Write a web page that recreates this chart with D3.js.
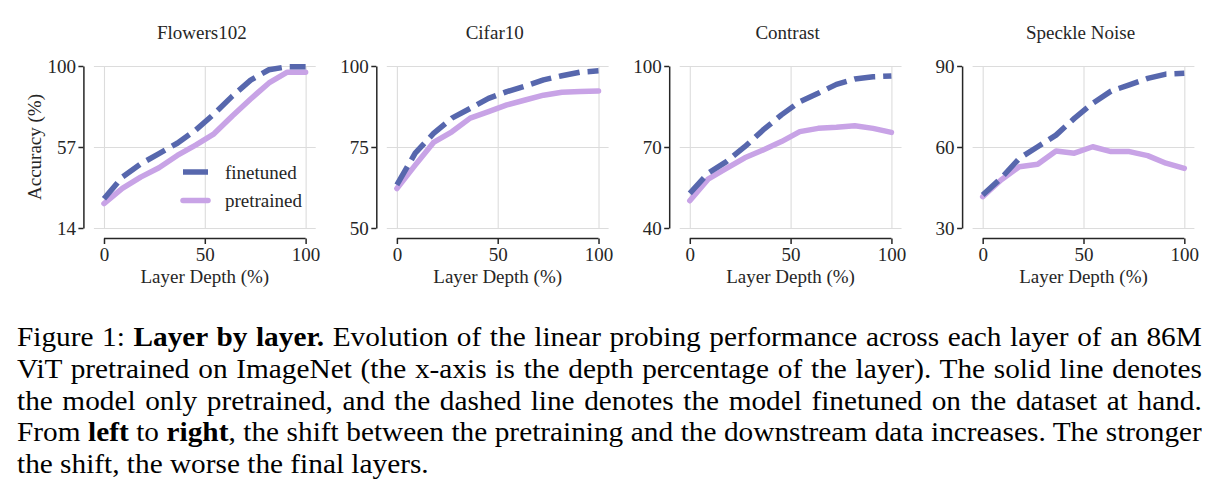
<!DOCTYPE html>
<html>
<head>
<meta charset="utf-8">
<script src="https://cdn.jsdelivr.net/npm/d3@7"></script>
<style>
body { margin: 0; background: #fff; }
#chart { position: relative; width: 1226px; height: 502px; overflow: hidden; }
.cap {
	position: absolute; left: 17px; width: 1092px;
	font-family: "Liberation Serif", "Times New Roman", serif;
	font-size: 27px; line-height: 31.8px; white-space: nowrap; color: #000;
	text-align: justify; text-align-last: justify;
	transform: scaleX(1.085); transform-origin: 0 0;
}
.cap.last { text-align-last: left; }
</style>
</head>
<body>
<div id="chart"></div>
<script>

// values
const datasets = ["Flowers102", "Cifar10", "Contrast", "Speckle Noise"];
const depth = [0, 9.09, 18.18, 27.27, 36.36, 45.45, 54.55, 63.64, 72.73, 81.82, 90.91, 100];
const xTicks = [0, 50, 100];
const yTicks = [[14, 57, 100], [50, 75, 100], [40, 70, 100], [30, 60, 90]];

const finetuned = [
	[29.5, 41, 48, 53.5, 59, 66, 74.5, 84, 92.5, 98, 99.6, 99.6],
	[63.3, 73.1, 79.2, 83.9, 86.9, 90, 92.1, 93.8, 95.7, 97, 98.1, 98.5],
	[52.8, 60.3, 64.6, 70.1, 76.3, 81.9, 86.8, 89.9, 93.2, 95.2, 96, 96.3],
	[42.2, 48.4, 55.8, 60.1, 64.4, 70.6, 76.2, 80.7, 83, 85.4, 87, 87.3]
];
const pretrained = [
	[27, 35, 41, 46, 52.5, 58, 64, 73.5, 82.5, 91, 96.7, 96.7],
	[62.2, 69.4, 76.4, 79.7, 83.9, 85.9, 88, 89.5, 91, 91.9, 92.1, 92.3],
	[50.1, 58.1, 62.1, 66, 68.9, 72, 75.7, 76.9, 77.3, 77.9, 76.9, 75.4],
	[41.6, 47.8, 52.7, 53.6, 58.5, 57.7, 60.1, 58.3, 58.3, 56.8, 54, 52.1]
];
const seriesNames = ["finetuned", "pretrained"];

const captionLines = [
	"Figure 1: <b>Layer by layer.</b> Evolution of the linear probing performance across each layer of an 86M",
	"ViT pretrained on ImageNet (the x-axis is the depth percentage of the layer). The solid line denotes",
	"the model only pretrained, and the dashed line denotes the model finetuned on the dataset at hand.",
	"From <b>left</b> to <b>right</b>, the shift between the pretraining and the downstream data increases. The stronger",
	"the shift, the worse the final layers."
];

const W = 1226, H = 502;
const fontFam = '"Liberation Serif", "Times New Roman", serif';
const fs = 19;
const blue = "#5767ad", purple = "#c8a3e6", gridC = "#dcdcdc", ink = "#262626";
const lw = 5.5;

const panelLeft = 93.9, panelStep = 292.9, panelW = 221.8;
const plotTop = 66, plotBottom = 228;

const svg = d3.select("#chart").append("svg")
	.attr("width", W).attr("height", H)
	.style("position", "absolute").style("left", 0).style("top", 0);

datasets.forEach((name, i) => {
	const left = panelLeft + i * panelStep;
	const x = d3.scaleLinear().domain([-5, 105]).range([left, left + panelW]);
	const yt = yTicks[i];
	const y = d3.scaleLinear().domain([yt[0], yt[2]]).range([plotBottom, plotTop]);
	const g = svg.append("g");

	// grid
	g.append("g")
		.attr("transform", `translate(0,${plotBottom})`)
		.call(d3.axisBottom(x).tickValues(xTicks).tickSize(-(plotBottom - plotTop)).tickFormat(""))
		.call(s => { s.select(".domain").remove(); s.selectAll("line").attr("stroke", gridC).attr("stroke-width", 1.1); });
	g.append("g")
		.attr("transform", `translate(${left},0)`)
		.call(d3.axisLeft(y).tickValues(yt).tickSize(-panelW).tickFormat(""))
		.call(s => { s.select(".domain").remove(); s.selectAll("line").attr("stroke", gridC).attr("stroke-width", 1.1); });

	// y axis (offset, trimmed)
	g.append("g")
		.attr("transform", `translate(${left - 10.5},0)`)
		.call(d3.axisLeft(y).tickValues(yt).tickSize(5).tickSizeOuter(0).tickPadding(2.5))
		.call(s => {
			s.select(".domain").attr("stroke", ink).attr("stroke-width", 1.5);
			s.selectAll("line").attr("stroke", ink).attr("stroke-width", 1.5);
			s.selectAll("text").attr("fill", ink).style("font-family", fontFam).style("font-size", fs + "px");
		});

	// x axis (offset, trimmed)
	const xa = g.append("g")
		.attr("transform", `translate(0,${plotBottom + 10.5})`)
		.call(d3.axisBottom(x).tickValues(xTicks).tickSize(5.5).tickPadding(3.5))
		.call(s => {
			s.select(".domain").remove();
			s.selectAll("line").attr("stroke", ink).attr("stroke-width", 1.5);
			s.selectAll("text").attr("fill", ink).style("font-family", fontFam).style("font-size", fs + "px");
		});
	xa.append("line")
		.attr("x1", x(xTicks[0])).attr("x2", x(xTicks[xTicks.length - 1]))
		.attr("stroke", ink).attr("stroke-width", 1.5);

	g.append("text")
		.attr("x", (x(0) + x(100)) / 2).attr("y", 283)
		.attr("text-anchor", "middle").attr("fill", ink)
		.style("font-family", fontFam).style("font-size", fs + "px")
		.text("Layer Depth (%)");

	g.append("text")
		.attr("x", (x(-5) + x(105)) / 2 - 3).attr("y", 38.5)
		.attr("text-anchor", "middle").attr("fill", ink)
		.style("font-family", fontFam).style("font-size", fs + "px")
		.text(name);

	const line = d3.line().x(d => x(d[0])).y(d => y(d[1]));

	g.append("path")
		.datum(depth.map((d, j) => [d, pretrained[i][j]]))
		.attr("d", line).attr("fill", "none")
		.attr("stroke", purple).attr("stroke-width", lw)
		.attr("stroke-linecap", "round").attr("stroke-linejoin", "round");

	g.append("path")
		.datum(depth.map((d, j) => [d, finetuned[i][j]]))
		.attr("d", line).attr("fill", "none")
		.attr("stroke", blue).attr("stroke-width", lw)
		.attr("stroke-dasharray", "21 8")
		.attr("stroke-linejoin", "round");

	if (i === 0) {
		g.append("text")
			.attr("transform", `translate(41,${(plotTop + plotBottom) / 2}) rotate(-90)`)
			.attr("text-anchor", "middle").attr("fill", ink)
			.style("font-family", fontFam).style("font-size", fs + "px")
			.text("Accuracy (%)");

		// legend
		const leg = g.append("g").attr("transform", "translate(183,172)");
		seriesNames.forEach((s, k) => {
			leg.append("line")
				.attr("x1", 0).attr("x2", 25).attr("y1", k * 28.5).attr("y2", k * 28.5)
				.attr("stroke", k === 0 ? blue : purple).attr("stroke-width", lw)
				.attr("stroke-linecap", k === 0 ? "butt" : "round")
				.attr("stroke-dasharray", k === 0 ? "25 8" : null);
			leg.append("text")
				.attr("x", 42).attr("y", k * 28.5 + 6.5)
				.attr("fill", ink)
				.style("font-family", fontFam).style("font-size", fs + "px")
				.text(s);
		});
	}
});

d3.select("#chart").selectAll(".cap")
	.data(captionLines)
	.join("div")
	.attr("class", (d, k) => k === captionLines.length - 1 ? "cap last" : "cap")
	.style("top", (d, k) => (322 + k * 31.8) + "px")
	.html(d => d);

</script>
</body>
</html>
